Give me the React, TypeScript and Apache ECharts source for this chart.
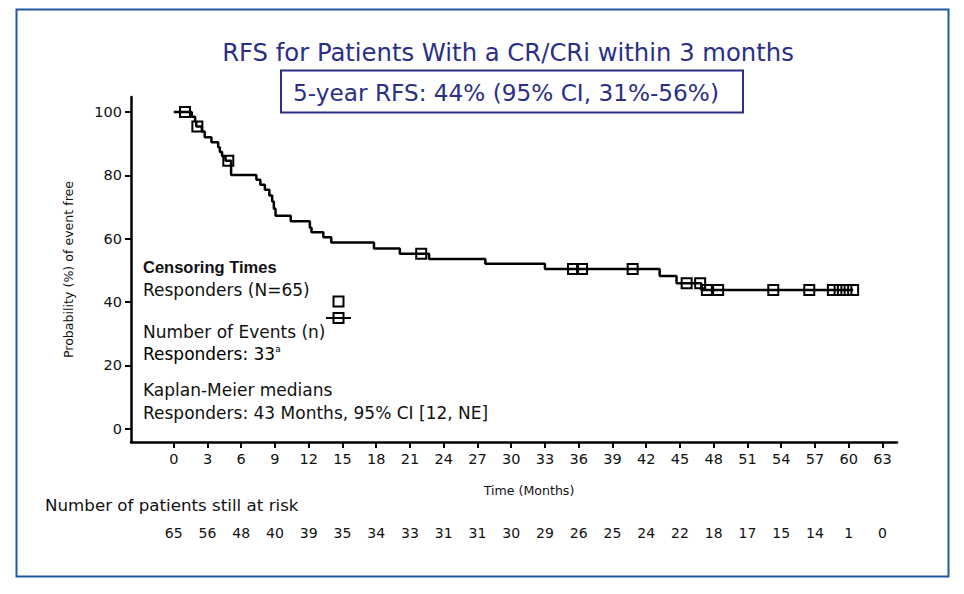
import React, { useEffect, useRef } from "react";
import * as echarts from "echarts";

// Kaplan-Meier step curve (time in months, probability %)
const kmTimes = [0, 1.6, 1.9, 2.0, 2.5, 2.75, 3.35, 3.95, 4.1, 4.3, 4.6, 5.1, 7.35, 7.7, 8.1, 8.5, 8.75, 8.9, 9.05, 10.4, 12.1, 12.25, 13.3, 14.0, 17.8, 20.1, 22.7, 27.7, 33.0, 43.2, 44.7, 46.9, 60.4];
const kmSurvival = [100, 98.5, 96.9, 95.4, 93.8, 92.0, 90.4, 88.8, 87.3, 86.0, 84.6, 80.1, 78.6, 77.0, 75.4, 73.6, 71.7, 69.4, 67.2, 65.5, 63.4, 62.0, 60.4, 58.8, 56.9, 55.2, 53.6, 52.1, 50.4, 48.2, 45.9, 43.8, 43.8];

// Censoring marks
const censorTimes = [1.0, 2.1, 4.85, 22.0, 35.5, 36.3, 40.8, 45.6, 46.8, 47.4, 48.4, 53.3, 56.5, 58.6, 59.2, 59.8, 60.4];
const censorSurvival = [100, 95.4, 84.6, 55.2, 50.4, 50.4, 50.4, 45.9, 45.9, 43.8, 43.8, 43.8, 43.8, 43.8, 43.8, 43.8, 43.8];

// Axis ticks
const xTicks = [0, 3, 6, 9, 12, 15, 18, 21, 24, 27, 30, 33, 36, 39, 42, 45, 48, 51, 54, 57, 60, 63];
const yTicks = [0, 20, 40, 60, 80, 100];

// Number at risk at each x tick
const atRisk = [65, 56, 48, 40, 39, 35, 34, 33, 31, 31, 30, 29, 26, 25, 24, 22, 18, 17, 15, 14, 1, 0];

const titleText = "RFS for Patients With a CR/CRi within 3 months";
const boxText = "5-year RFS: 44% (95% CI, 31%-56%)";
const FONT = "'DejaVu Sans', Verdana, sans-serif";
const BOLD_FONT = "'Liberation Sans', Arial, sans-serif";
const NAVY = "#2b2f86";

export default function App() {
  const ref = useRef<HTMLDivElement>(null);

  useEffect(() => {
    if (!ref.current) return;
    const chart = echarts.init(ref.current, undefined, { renderer: "svg" });
    const kmData = kmTimes.map((t, i) => [t, kmSurvival[i]]);
    const censorData = censorTimes.map((t, i) => [t, censorSurvival[i]]);

    const legendText = (text: string, y: number, bold = false) => ({
      type: "text",
      x: 143,
      y,
      style: {
        text,
        fill: "#111",
        font: bold ? `bold 16.5px ${BOLD_FONT}` : `17px ${FONT}`,
        verticalAlign: "middle",
        align: "left",
      },
    });

    chart.setOption({
      animation: false,
      backgroundColor: "#fff",
      textStyle: { fontFamily: FONT },
      grid: { left: 131, right: 67, top: 97, bottom: 152, containLabel: false },
      xAxis: [
        {
          type: "value",
          min: -3.8,
          max: 64.3,
          name: "Time (Months)",
          nameLocation: "middle",
          nameGap: 42,
          nameTextStyle: { fontSize: 12.6, color: "#111", padding: [0, 0, 0, 30] },
          axisLine: { show: true, onZero: false, lineStyle: { color: "#000", width: 2.5 } },
          axisTick: { show: true, inside: false, length: 6, customValues: xTicks, lineStyle: { color: "#000", width: 2 } },
          axisLabel: { customValues: xTicks, fontSize: 14.5, color: "#111", margin: 9 },
          splitLine: { show: false },
        },
        {
          type: "value",
          min: -3.8,
          max: 64.3,
          position: "bottom",
          offset: 76,
          axisLine: { show: false },
          axisTick: { show: false },
          axisLabel: {
            customValues: xTicks,
            fontSize: 14,
            color: "#111",
            margin: 8,
            formatter: (v: number) => {
              const i = xTicks.findIndex((x) => Math.abs(x - v) < 1e-6);
              return i >= 0 ? String(atRisk[i]) : "";
            },
          },
          splitLine: { show: false },
        },
      ],
      yAxis: {
        type: "value",
        min: -4.2,
        max: 104.7,
        name: "Probability (%) of event free",
        nameLocation: "middle",
        nameGap: 56,
        nameTextStyle: { fontSize: 12.6, color: "#111" },
        axisLine: { show: true, onZero: false, lineStyle: { color: "#000", width: 2.5 } },
        axisTick: { show: true, inside: false, length: 6, customValues: yTicks, lineStyle: { color: "#000", width: 2 } },
        axisLabel: { customValues: yTicks, fontSize: 14.5, color: "#111", margin: 9 },
        splitLine: { show: false },
      },
      series: [
        {
          type: "line",
          step: "end",
          data: kmData,
          symbol: "none",
          lineStyle: { color: "#000", width: 2.5 },
          z: 2,
        },
        {
          type: "scatter",
          data: censorData,
          symbol: "rect",
          symbolSize: 10,
          itemStyle: { color: "rgba(0,0,0,0)", borderColor: "#000", borderWidth: 2, opacity: 1 },
          z: 3,
        },
      ],
      graphic: [
        {
          type: "rect",
          shape: { x: 16.5, y: 9.5, width: 932, height: 567 },
          style: { fill: "none", stroke: "#1f5aa2", lineWidth: 2 },
          silent: true,
        },
        {
          type: "text",
          x: 508,
          y: 52,
          style: { text: titleText, fill: NAVY, font: `24.3px ${FONT}`, align: "center", verticalAlign: "middle" },
        },
        {
          type: "rect",
          shape: { x: 281, y: 70.5, width: 462, height: 42 },
          style: { fill: "#fff", stroke: NAVY, lineWidth: 2 },
        },
        {
          type: "text",
          x: 506,
          y: 92,
          style: { text: boxText, fill: NAVY, font: `23.2px ${FONT}`, align: "center", verticalAlign: "middle" },
        },
        legendText("Censoring Times", 267, true),
        legendText("Responders (N=65)", 290),
        legendText("Number of Events (n)", 332),
        {
          type: "text",
          x: 143,
          y: 354,
          style: {
            text: "{n|Responders: 33}{s|a}",
            verticalAlign: "middle",
            align: "left",
            rich: {
              n: { fontSize: 17, fontFamily: FONT, color: "#111", lineHeight: 20 },
              s: { fontSize: 9, fontFamily: FONT, color: "#111", verticalAlign: "top", lineHeight: 12 },
            },
          },
        },
        legendText("Kaplan-Meier medians", 390),
        legendText("Responders: 43 Months, 95% CI [12, NE]", 413),
        {
          type: "rect",
          shape: { x: 333.5, y: 296.5, width: 10, height: 10 },
          style: { fill: "none", stroke: "#000", lineWidth: 2 },
        },
        {
          type: "rect",
          shape: { x: 333.5, y: 313, width: 10, height: 10 },
          style: { fill: "none", stroke: "#000", lineWidth: 2 },
        },
        {
          type: "line",
          shape: { x1: 326, y1: 318, x2: 351, y2: 318 },
          style: { stroke: "#000", lineWidth: 2 },
        },
        {
          type: "text",
          x: 45,
          y: 505,
          style: { text: "Number of patients still at risk", fill: "#111", font: `16.7px ${FONT}`, align: "left", verticalAlign: "middle" },
        },
      ],
    });

    return () => chart.dispose();
  }, []);

  return (
    <div
      ref={ref}
      style={{ position: "absolute", left: 0, top: 0, width: 964, height: 594 }}
    />
  );
}
